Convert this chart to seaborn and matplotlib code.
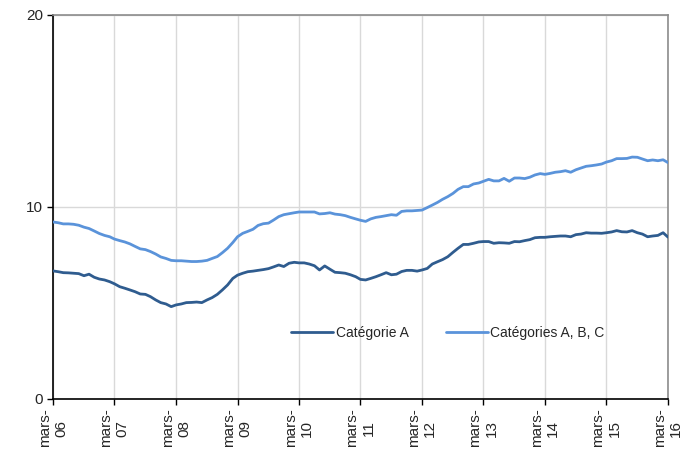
import matplotlib
matplotlib.use("Agg")
import matplotlib.pyplot as plt
import pandas as pd
import seaborn as sns

# monthly values, mars 2006 -> mars 2016
months = pd.date_range("2006-03-01", "2016-03-01", freq="MS")

cat_a = [
    6.67, 6.63, 6.58, 6.57, 6.55, 6.53, 6.42, 6.50, 6.34, 6.25, 6.20, 6.11,
    6.00, 5.85, 5.77, 5.68, 5.59, 5.47, 5.45, 5.33, 5.16, 5.02, 4.95, 4.81,
    4.90, 4.95, 5.02, 5.03, 5.05, 5.02, 5.16, 5.28, 5.45, 5.68, 5.94, 6.28,
    6.45, 6.55, 6.63, 6.66, 6.70, 6.74, 6.79, 6.88, 6.98, 6.90, 7.07, 7.12,
    7.09, 7.09, 7.03, 6.94, 6.72, 6.93, 6.76, 6.60, 6.58, 6.55, 6.47, 6.37,
    6.23, 6.20, 6.28, 6.37, 6.47, 6.58, 6.47, 6.50, 6.64, 6.70, 6.70, 6.66,
    6.72, 6.80, 7.03, 7.15, 7.26, 7.41, 7.64, 7.85, 8.05, 8.05, 8.11, 8.18,
    8.20, 8.20, 8.11, 8.14, 8.13, 8.11, 8.20, 8.19, 8.25, 8.30, 8.40, 8.42,
    8.42, 8.45, 8.47, 8.49, 8.49, 8.45, 8.56, 8.59, 8.66, 8.64, 8.64, 8.63,
    8.66, 8.70, 8.77, 8.71, 8.70, 8.77, 8.66, 8.59, 8.45, 8.49, 8.52, 8.66,
    8.43,
]

cat_abc = [
    9.22, 9.18, 9.12, 9.12, 9.10, 9.05, 8.95, 8.88, 8.75, 8.62, 8.52, 8.45,
    8.33, 8.25, 8.18, 8.08, 7.95, 7.82, 7.78, 7.68, 7.55, 7.40, 7.32, 7.22,
    7.20, 7.20, 7.18, 7.16, 7.16, 7.18, 7.22, 7.32, 7.42, 7.62, 7.85, 8.15,
    8.45, 8.63, 8.73, 8.84, 9.04, 9.13, 9.16, 9.32, 9.50, 9.60, 9.65, 9.70,
    9.74, 9.74, 9.74, 9.74, 9.64, 9.66, 9.70, 9.63, 9.60, 9.55, 9.46, 9.38,
    9.31, 9.25, 9.38, 9.46, 9.50, 9.55, 9.60, 9.57, 9.77, 9.80, 9.80, 9.82,
    9.84, 9.97, 10.10, 10.24, 10.40, 10.54, 10.71, 10.92, 11.06, 11.06, 11.20, 11.25,
    11.34, 11.44, 11.36, 11.36, 11.49, 11.34, 11.51, 11.51, 11.48, 11.55, 11.67, 11.74,
    11.70, 11.75, 11.81, 11.84, 11.89, 11.81, 11.94, 12.03, 12.12, 12.15, 12.19, 12.24,
    12.34, 12.41, 12.52, 12.52, 12.53, 12.60, 12.59, 12.50, 12.41, 12.45, 12.41, 12.46,
    12.31,
]

series_names = ["Catégorie A", "Catégories A, B, C"]
colors = ["#2F5C8F", "#5A93DA"]
tick_dates = pd.date_range("2006-03-01", "2016-03-01", freq="12MS")
tick_labels = ["mars-\n%02d" % (d.year % 100) for d in tick_dates]
y_ticks = [0, 10, 20]

df = pd.concat([
    pd.DataFrame({"date": months, "valeur": cat_a, "serie": series_names[0]}),
    pd.DataFrame({"date": months, "valeur": cat_abc, "serie": series_names[1]}),
])

sns.set_style("white")
plt.rcParams["font.family"] = ["Liberation Sans", "DejaVu Sans"]

fig = plt.figure(figsize=(6.99, 4.53), dpi=100)
ax = fig.add_axes([53 / 699, 1 - 399 / 453, 615 / 699, 384 / 453])

sns.lineplot(
    data=df, x="date", y="valeur", hue="serie",
    palette=dict(zip(series_names, colors)),
    linewidth=2.0, ax=ax, zorder=3,
)

ax.set_xlim(months[0], months[-1])
ax.set_ylim(0, 20)
ax.set_xticks(tick_dates)
ax.set_xticklabels(tick_labels, rotation=90, ha="center", va="top", fontsize=11)
ax.set_yticks(y_ticks)
ax.set_yticklabels([str(v) for v in y_ticks], fontsize=11)
ax.set_xlabel("")
ax.set_ylabel("")

ax.grid(True, color="#D9D9D9", linewidth=1.0)
ax.set_axisbelow(True)
ax.tick_params(axis="both", direction="out", length=4, width=1, color="black",
               bottom=True, left=True, pad=3)

for side in ["left", "bottom"]:
    ax.spines[side].set_color("black")
    ax.spines[side].set_linewidth(1.2)
for side in ["top", "right"]:
    ax.spines[side].set_color("#8C8C8C")
    ax.spines[side].set_linewidth(1.2)

leg = ax.legend(
    loc="center", bbox_to_anchor=(0.642, 0.172), ncol=2, frameon=False,
    fontsize=10, handlelength=3.0, handletextpad=0.2, columnspacing=2.7,
)

fig.savefig("out.png", dpi=100)
